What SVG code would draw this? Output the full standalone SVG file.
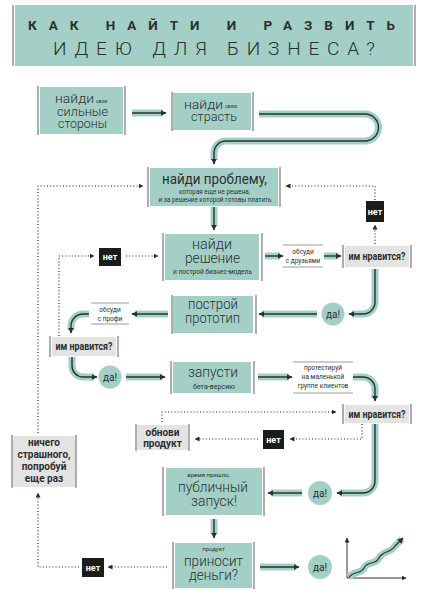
<svg xmlns="http://www.w3.org/2000/svg" width="438" height="602" viewBox="0 0 438 602">
<defs>
<marker id="ah" viewBox="0 0 10 10" refX="9" refY="5" markerWidth="6" markerHeight="6" markerUnits="userSpaceOnUse" orient="auto"><path d="M0,0 L10,5 L0,10 z" fill="#243331"/></marker>
<marker id="dh" viewBox="0 0 10 10" refX="9" refY="5" markerWidth="5" markerHeight="5" markerUnits="userSpaceOnUse" orient="auto"><path d="M0,0 L10,5 L0,10 z" fill="#2a2a2a"/></marker>
<style>
text{font-family:Roboto,"Noto Sans",sans-serif;fill:#2b2f2e}
.box{fill:#a4cfc6}
.gbox{fill:#e3e3e3}
.vl{stroke:#8c8c8c;stroke-width:1.4}
.hl{stroke:#9a9a9a;stroke-width:1}
.band{fill:none;stroke:#a4cfc6;stroke-width:7}
.core{fill:none;stroke:#243331;stroke-width:1.4;marker-end:url(#ah)}
.dot{fill:none;stroke:#2a2a2a;stroke-width:1.2;stroke-dasharray:1 2.2;marker-end:url(#dh)}
.big{font-size:14px;font-weight:300;text-anchor:middle}
.sm{font-size:6.5px;text-anchor:middle}
.q{font-size:10px;font-weight:700;text-anchor:middle}
.net rect{fill:#1c1c1c}
.net text{fill:#ffffff;font-size:9px;font-weight:700;text-anchor:middle}
.yes circle{fill:#a4cfc6}
.yes text{font-size:10px;font-weight:400;text-anchor:middle}
</style>
</defs>
<rect width="438" height="602" fill="#ffffff"/>

<g id="title">
<rect x="15" y="5" width="398" height="61" fill="#a4cfc6"/>
<line class="vl" x1="13" y1="5" x2="13" y2="66"/>
<line class="vl" x1="415" y1="5" x2="415" y2="66"/>
<text x="28" y="29.5" font-size="13.5" font-weight="700" textLength="367" lengthAdjust="spacing" fill="#1f2424">КАК НАЙТИ И РАЗВИТЬ</text>
<text x="53" y="55" font-size="19" font-weight="300" textLength="322" lengthAdjust="spacing" fill="#2b3130">ИДЕЮ ДЛЯ БИЗНЕСА?</text>
</g>

<g id="connectors">
<path class="band" d="M132,113 H163"/><path class="core" d="M132,113 H166"/>
<path class="band" d="M259,114 H365 A13.5,13.5 0 0 1 365,141 H226 A12,12 0 0 0 214,153 V160"/><path class="core" d="M259,114 H365 A13.5,13.5 0 0 1 365,141 H226 A12,12 0 0 0 214,153 V164"/>
<path class="band" d="M214,207 V226"/><path class="core" d="M214,207 V230"/>
<path class="band" d="M265,256 H280"/><path class="core" d="M265,256 H283"/>
<path class="band" d="M324,256 H338"/><path class="core" d="M324,256 H341"/>
<path class="band" d="M375,269 V302 A12,12 0 0 1 363,314 H352"/><path class="core" d="M375,269 V302 A12,12 0 0 1 363,314 H349"/>
<path class="band" d="M317,314 H262"/><path class="core" d="M317,314 H259"/>
<path class="band" d="M168,314 H135"/><path class="core" d="M168,314 H132"/>
<path class="band" d="M89,314 H83 A12,12 0 0 0 71,326 V330"/><path class="core" d="M89,314 H83 A12,12 0 0 0 71,326 V333"/>
<path class="band" d="M72,357 V366 A11,11 0 0 0 83,377 H94"/><path class="core" d="M72,357 V366 A11,11 0 0 0 83,377 H97"/>
<path class="band" d="M126,377 H162"/><path class="core" d="M126,377 H165"/>
<path class="band" d="M258,377 H289"/><path class="core" d="M258,377 H292"/>
<path class="band" d="M353,377 H363 A12,12 0 0 1 375,389 V398"/><path class="core" d="M353,377 H363 A12,12 0 0 1 375,389 V401"/>
<path class="band" d="M375,424 V481 A12,12 0 0 1 363,493 H340"/><path class="core" d="M375,424 V481 A12,12 0 0 1 363,493 H337"/>
<path class="band" d="M302,493 H271"/><path class="core" d="M302,493 H268"/>
<path class="band" d="M214,519 V534"/><path class="core" d="M214,519 V538"/>
<path class="band" d="M260,567 H296"/><path class="core" d="M260,567 H299"/>
<path class="dot" d="M38,433 V186 H143"/>
<path class="dot" d="M375,200 V186 H286"/>
<path class="dot" d="M375,244 V225"/>
<path class="dot" d="M59,336 V256 H94"/>
<path class="dot" d="M126,256 H158"/>
<path class="dot" d="M362,424 V439 H290"/>
<path class="dot" d="M258,439 H195"/>
<path class="dot" d="M162,422 V412 H336"/>
<path class="dot" d="M167,567 H108"/>
<path class="dot" d="M79,567 H38 V493"/>
</g>

<g id="n1">
<rect class="box" x="40" y="87" width="83" height="47"/>
<line class="vl" x1="38" y1="86" x2="38" y2="135"/><line class="vl" x1="125" y1="86" x2="125" y2="135"/>
<text x="55" y="103" font-size="12.5" font-weight="300" textLength="39" lengthAdjust="spacingAndGlyphs">найди</text>
<text x="96" y="103" font-size="5">свои</text>
<text class="big" x="82.5" y="115.5" textLength="51" lengthAdjust="spacingAndGlyphs" style="font-size:12.5px">сильные</text>
<text class="big" x="82.5" y="127.5" textLength="49" lengthAdjust="spacingAndGlyphs" style="font-size:12.5px">стороны</text>
</g>

<g id="n2">
<rect class="box" x="173" y="93" width="78" height="37"/>
<line class="vl" x1="172" y1="92" x2="172" y2="131"/><line class="vl" x1="253" y1="92" x2="253" y2="131"/>
<text x="184" y="108.5" font-size="12.5" font-weight="300" textLength="39" lengthAdjust="spacingAndGlyphs">найди</text>
<text x="225" y="108" font-size="5">свою</text>
<text class="big" x="214" y="121" textLength="46" lengthAdjust="spacingAndGlyphs" style="font-size:12.5px">страсть</text>
</g>

<g id="n3">
<rect class="box" x="150" y="168" width="128" height="38"/>
<line class="vl" x1="148" y1="167" x2="148" y2="207"/><line class="vl" x1="280" y1="167" x2="280" y2="207"/>
<text class="big" x="214.5" y="183.5" textLength="105" lengthAdjust="spacingAndGlyphs" style="font-size:14.5px;font-weight:400">найди проблему,</text>
<text class="sm" x="214.5" y="193.5" textLength="71" lengthAdjust="spacingAndGlyphs">которая еще не решена,</text>
<text class="sm" x="215" y="201.5" textLength="113" lengthAdjust="spacingAndGlyphs">и за решение которой готовы платить</text>
</g>

<g id="n4">
<rect class="box" x="165" y="234" width="94" height="46"/>
<line class="vl" x1="163" y1="233" x2="163" y2="281"/><line class="vl" x1="262" y1="233" x2="262" y2="281"/>
<text class="big" x="212" y="249" textLength="40" lengthAdjust="spacingAndGlyphs">найди</text>
<text class="big" x="212.5" y="262.5" textLength="55" lengthAdjust="spacingAndGlyphs">решение</text>
<text class="sm" x="212.5" y="274" textLength="79" lengthAdjust="spacingAndGlyphs">и построй бизнес-модель</text>
</g>

<g id="talk1">
<line class="hl" x1="283" y1="245" x2="323" y2="245"/><line class="hl" x1="283" y1="267" x2="323" y2="267"/>
<text class="sm" x="303" y="254">обсуди</text>
<text class="sm" x="303" y="263">с друзьями</text>
</g>

<g id="like1">
<rect class="gbox" x="345" y="246" width="64" height="21"/>
<line class="vl" x1="343" y1="245" x2="343" y2="268"/><line class="vl" x1="411" y1="245" x2="411" y2="268"/>
<text class="q" x="377" y="259.5" textLength="57" lengthAdjust="spacingAndGlyphs">им нравится?</text>
</g>

<g id="net1" class="net"><rect x="366" y="201" width="18" height="21"/><text x="375" y="214.5">нет</text></g>
<g id="net2" class="net"><rect x="99" y="248" width="22" height="18"/><text x="110" y="260">нет</text></g>

<g id="yes1" class="yes"><circle cx="333" cy="314" r="11.5"/><text x="333" y="317.5">да!</text></g>

<g id="n5">
<rect class="box" x="173" y="296" width="80" height="37"/>
<line class="vl" x1="172" y1="295" x2="172" y2="334"/><line class="vl" x1="256" y1="295" x2="256" y2="334"/>
<text class="big" x="213" y="309" textLength="50" lengthAdjust="spacingAndGlyphs">построй</text>
<text class="big" x="212.5" y="322.5" textLength="55" lengthAdjust="spacingAndGlyphs">прототип</text>
</g>

<g id="talk2">
<line class="hl" x1="91" y1="303" x2="129" y2="303"/><line class="hl" x1="91" y1="324" x2="129" y2="324"/>
<text class="sm" x="110" y="312">обсуди</text>
<text class="sm" x="110" y="320.5">с профи</text>
</g>

<g id="like2">
<rect class="gbox" x="52" y="337" width="64" height="19"/>
<line class="vl" x1="50" y1="336" x2="50" y2="357"/><line class="vl" x1="118" y1="336" x2="118" y2="357"/>
<text class="q" x="84" y="349.5" textLength="57" lengthAdjust="spacingAndGlyphs">им нравится?</text>
</g>

<g id="yes2" class="yes"><circle cx="110" cy="377" r="11.5"/><text x="110" y="380.5">да!</text></g>

<g id="n6">
<rect class="box" x="173" y="362" width="78" height="31"/>
<line class="vl" x1="171" y1="361" x2="171" y2="394"/><line class="vl" x1="254" y1="361" x2="254" y2="394"/>
<text class="big" x="213" y="377" textLength="50" lengthAdjust="spacingAndGlyphs" style="font-size:15px">запусти</text>
<text class="sm" x="214" y="388.5" textLength="42" lengthAdjust="spacingAndGlyphs">бета-версию</text>
</g>

<g id="test">
<line class="hl" x1="293" y1="362" x2="353" y2="362"/><line class="hl" x1="293" y1="393" x2="353" y2="393"/>
<text class="sm" x="323" y="370">протестируй</text>
<text class="sm" x="323" y="379">на маленькой</text>
<text class="sm" x="323" y="388">группе клиентов</text>
</g>

<g id="like3">
<rect class="gbox" x="345" y="405" width="64" height="18"/>
<line class="vl" x1="343" y1="404" x2="343" y2="424"/><line class="vl" x1="411" y1="404" x2="411" y2="424"/>
<text class="q" x="377" y="417.5" textLength="57" lengthAdjust="spacingAndGlyphs">им нравится?</text>
</g>

<g id="net3" class="net"><rect x="263" y="430" width="21" height="19"/><text x="273.5" y="442.5">нет</text></g>

<g id="update">
<rect class="gbox" x="137" y="425" width="51" height="25"/>
<line class="vl" x1="136" y1="424" x2="136" y2="451"/><line class="vl" x1="189" y1="424" x2="189" y2="451"/>
<text class="q" x="162.5" y="435.5">обнови</text>
<text class="q" x="162.5" y="447">продукт</text>
</g>

<g id="retry">
<rect class="gbox" x="13" y="436" width="62" height="51"/>
<line class="vl" x1="12" y1="435" x2="12" y2="488"/><line class="vl" x1="76" y1="435" x2="76" y2="488"/>
<text class="q" x="44" y="446">ничего</text>
<text class="q" x="44" y="458">страшного,</text>
<text class="q" x="44" y="470">попробуй</text>
<text class="q" x="44" y="481.5">еще раз</text>
</g>

<g id="yes3" class="yes"><circle cx="320" cy="493" r="12"/><text x="320" y="496.5">да!</text></g>

<g id="n7">
<rect class="box" x="166" y="468" width="96" height="47"/>
<line class="vl" x1="163" y1="467" x2="163" y2="516"/><line class="vl" x1="264" y1="467" x2="264" y2="516"/>
<text class="sm" x="208.5" y="477" style="font-size:6px">время пришло,</text>
<text class="big" x="213" y="492" textLength="70" lengthAdjust="spacingAndGlyphs" style="font-size:14.5px">публичный</text>
<text class="big" x="214" y="506" textLength="46" lengthAdjust="spacingAndGlyphs" style="font-size:14.5px">запуск!</text>
</g>

<g id="n8">
<rect class="box" x="175" y="543" width="77" height="45"/>
<line class="vl" x1="173" y1="542" x2="173" y2="589"/><line class="vl" x1="254" y1="542" x2="254" y2="589"/>
<text class="sm" x="213.5" y="551" style="font-size:6px">продукт</text>
<text class="big" x="213.5" y="566" textLength="59" lengthAdjust="spacingAndGlyphs">приносит</text>
<text class="big" x="213.5" y="580" textLength="49" lengthAdjust="spacingAndGlyphs">деньги?</text>
</g>

<g id="net4" class="net"><rect x="82" y="558" width="22" height="19"/><text x="93" y="570.5">нет</text></g>

<g id="yes4" class="yes"><circle cx="320" cy="567" r="12"/><text x="320" y="570.5">да!</text></g>

<g id="chart">
<path d="M347,578 V538" fill="none" stroke="#333" stroke-width="1" marker-end="url(#dh)"/>
<path d="M347,578 H406" fill="none" stroke="#333" stroke-width="1" marker-end="url(#dh)"/>
<path d="M349,577 C355,570 360,575 364,568 C368,560 375,566 379,558 C383,550 390,554 395,546 L402,539" fill="none" stroke="#a4cfc6" stroke-width="7"/>
<path d="M349,577 C355,570 360,575 364,568 C368,560 375,566 379,558 C383,550 390,554 395,546 L403,538" fill="none" stroke="#243331" stroke-width="1.2" marker-end="url(#ah)"/>
</g>
</svg>
